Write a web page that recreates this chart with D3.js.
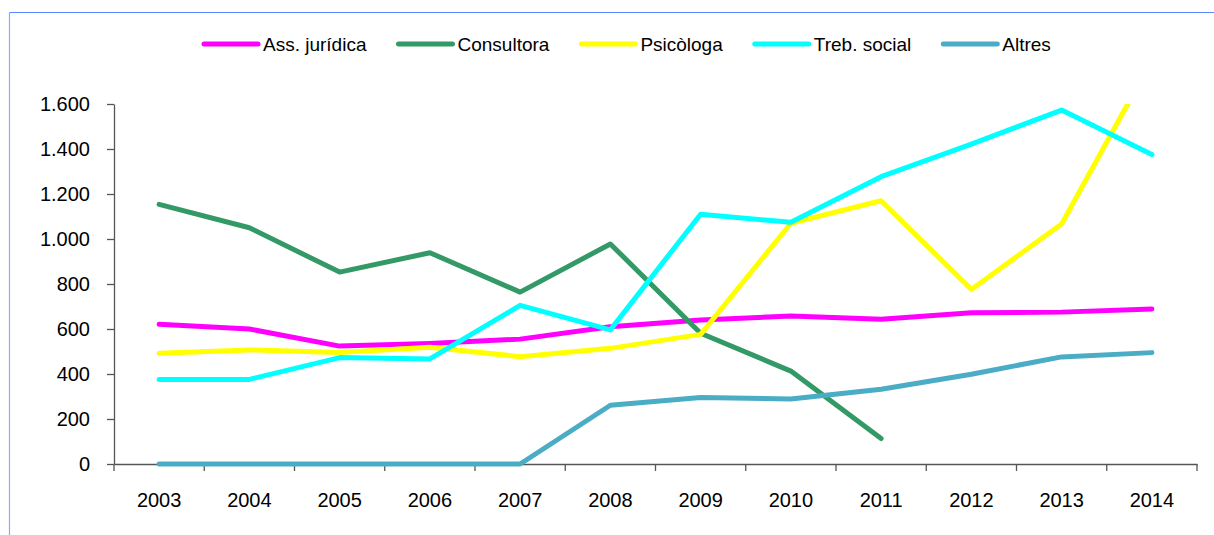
<!DOCTYPE html>
<html>
<head>
<meta charset="utf-8">
<script src="https://cdn.jsdelivr.net/npm/d3@7"></script>
<style>
  html, body { margin: 0; padding: 0; background: #fff; }
  svg { display: block; font-family: Arial, "Liberation Sans", sans-serif; }
</style>
</head>
<body>
<svg id="chart" width="1214" height="535"></svg>
<script>
const years = ["2003","2004","2005","2006","2007","2008","2009","2010","2011","2012","2013","2014"];
const seriesNames = ["Ass. jurídica","Consultora","Psicòloga","Treb. social","Altres"];
const seriesColors = ["#FF00FF","#339966","#FFFF00","#00FFFF","#4BACC6"];
const assJuridica = [621, 600, 524, 536, 555, 610, 640, 658, 643, 672, 675, 689];
const consultora  = [1154, 1050, 853, 939, 764, 978, 581, 413, 113, null, null, null];
const psicologa   = [492, 507, 496, 519, 477, 514, 576, 1070, 1170, 776, 1067, 1795];
const trebSocial  = [376, 376, 473, 467, 705, 596, 1110, 1074, 1277, 1422, 1573, 1376];
const altres      = [0, 0, 0, 0, 0, 261, 296, 289, 332, 399, 476, 495];
const yTicks = [0, 200, 400, 600, 800, 1000, 1200, 1400, 1600];

const seriesValues = [assJuridica, consultora, psicologa, trebSocial, altres];

(function () {
const svg = d3.select("#chart");
const pLeft = 114, pRight = 1197, pTop = 104, pBottom = 464;

// outer frame
svg.append("line").attr("x1", 9.5).attr("x2", 1214).attr("y1", 12.5).attr("y2", 12.5)
  .attr("stroke", "#5B86FF").attr("stroke-width", 1.2);
svg.append("line").attr("x1", 9.5).attr("x2", 9.5).attr("y1", 12.5).attr("y2", 535)
  .attr("stroke", "#8FA8FF").attr("stroke-width", 1.2);

const x = d3.scaleBand().domain(years).range([pLeft, pRight]).paddingInner(0).paddingOuter(0);
const y = d3.scaleLinear().domain([0, 1600]).range([pBottom, pTop]);

const loc = d3.formatLocale({decimal: ",", thousands: ".", grouping: [3], currency: ["", ""]});
const fmt = loc.format(",");

// y axis
const yAxis = svg.append("g").attr("transform", `translate(${pLeft},0)`)
  .call(d3.axisLeft(y).tickValues(yTicks).tickFormat(fmt).tickSize(7).tickPadding(17).tickSizeOuter(0));
yAxis.select(".domain").attr("stroke", "#555").attr("stroke-width", 1.3);
yAxis.selectAll(".tick line").attr("stroke", "#555").attr("stroke-width", 1.3);
yAxis.selectAll("text").attr("font-size", 20).attr("fill", "#000")
  .style("font-family", "Arial, 'Liberation Sans', sans-serif");

// x axis (labels centered in bands, ticks at band edges)
const xAxis = svg.append("g").attr("transform", `translate(0,${pBottom})`)
  .call(d3.axisBottom(x).tickSize(0).tickPadding(29).tickSizeOuter(0));
xAxis.select(".domain").attr("stroke", "#555").attr("stroke-width", 1.3);
xAxis.selectAll("text").attr("font-size", 20).attr("fill", "#000")
  .style("font-family", "Arial, 'Liberation Sans', sans-serif");
const edges = years.map(d => x(d)).concat([x.range()[1]]);
xAxis.selectAll(".edge").data(edges).enter().append("line")
  .attr("x1", d => d).attr("x2", d => d).attr("y1", 0).attr("y2", 7)
  .attr("stroke", "#555").attr("stroke-width", 1.3);

// clip
svg.append("clipPath").attr("id", "plotclip").append("rect")
  .attr("x", 0).attr("y", pTop).attr("width", 1214).attr("height", 535 - pTop);

const line = d3.line()
  .defined(d => d.v !== null)
  .x(d => x(d.year) + x.bandwidth() / 2)
  .y(d => y(d.v));

const g = svg.append("g").attr("clip-path", "url(#plotclip)");
seriesValues.forEach((vals, i) => {
  const pts = years.map((yr, j) => ({year: yr, v: vals[j]}));
  g.append("path").datum(pts)
    .attr("d", line)
    .attr("fill", "none")
    .attr("stroke", seriesColors[i])
    .attr("stroke-width", 5)
    .attr("stroke-linecap", "round")
    .attr("stroke-linejoin", "round");
});

// legend
const legend = svg.append("g");
let cx = 204;
seriesNames.forEach((name, i) => {
  const item = legend.append("g");
  item.append("line").attr("x1", cx).attr("x2", cx + 54).attr("y1", 44).attr("y2", 44)
    .attr("stroke", seriesColors[i]).attr("stroke-width", 5).attr("stroke-linecap", "round");
  const t = item.append("text").attr("x", cx + 59).attr("y", 44).attr("dy", "0.36em")
    .attr("font-size", 19).attr("fill", "#000").text(name);
  cx = cx + 59 + t.node().getComputedTextLength() + 32;
});
})();
</script>
</body>
</html>
